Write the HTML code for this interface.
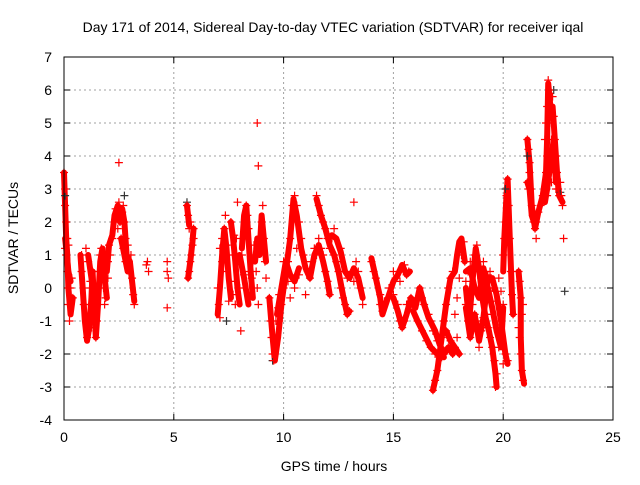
<!DOCTYPE html>
<html><head><meta charset="utf-8"><style>
body{margin:0;background:#fff;}
svg text{font-family:"Liberation Sans",sans-serif;font-size:14px;fill:#000;}
</style></head><body>
<svg id="chart" width="640" height="480" xmlns="http://www.w3.org/2000/svg">
<rect width="640" height="480" fill="#fff"/>
<text x="333" y="32" text-anchor="middle">Day 171 of 2014, Sidereal Day-to-day VTEC variation (SDTVAR) for receiver iqal</text>
<g id="grid"></g>
<g id="axes"></g>
<g id="trc"></g>
<g id="pts"></g>
<rect x="64" y="57" width="549" height="363" fill="none" stroke="#000" stroke-width="1"/>
<text x="334" y="471" text-anchor="middle">GPS time / hours</text>
<text transform="translate(18,238) rotate(-90)" text-anchor="middle">SDTVAR / TECUs</text>
</svg>
<script>
const xTicks=[0,5,10,15,20,25];
const yTicks=[-4,-3,-2,-1,0,1,2,3,4,5,6,7];
const redSeries=[
[0.0,3.5],[0.05,3.0],[0.05,2.5],[0.1,2.0],[0.1,1.5],[0.05,1.2],[0.1,1.0],[0.15,0.5],[0.2,0],[0.2,-0.5],[0.25,-1],[0.3,-0.5],[0.3,0],[0.35,0.3],[0.4,-0.3],[0.15,1.5],[0.2,1.3],
[0.8,1.0],[0.8,0.5],[0.9,0],[0.9,-0.5],[1.0,-1],[1.05,-1.5],[1.1,-1.3],[1.15,-1],[1.2,-0.5],[1.25,0],[1.3,0.5],[1.35,-0.5],[1.4,-1.2],[1.45,-1.5],[1.5,-1],[1.5,-0.5],[1.55,0],[1.6,0.5],[1.65,1],[1.7,1.2],[1.75,0.5],[1.8,0],[1.85,-0.5],[1.9,-0.3],[1.0,1.2],[1.1,0.8],[1.2,0.2],[2.0,0.3],[2.0,0.8],[2.05,1.3],[2.1,1.0],
[2.2,1.5],[2.3,2.0],[2.35,2.4],[2.4,2.2],[2.5,2.6],[2.55,2.0],[2.6,1.5],[2.65,2.3],[2.7,2.5],[2.75,2.0],[2.8,1.5],[2.85,1.0],[2.9,1.3],[2.95,0.8],[3.0,0.5],[3.05,1.0],[3.1,0.3],[3.15,-0.2],[3.2,-0.5],[2.5,3.8],[2.7,1.2],[2.8,0.8],[2.45,1.8],[2.6,2.2],
[3.75,0.7],[3.8,0.8],[3.85,0.5],[4.7,0.8],[4.7,0.5],[4.7,-0.6],[4.75,0.3],
[5.6,2.5],[5.65,2.2],[5.7,1.8],[5.75,2.0],[5.9,1.8],[5.65,0.3],[5.7,0.5],[5.75,0.8],[5.8,1.0],[5.85,1.3],[5.9,1.5],
[7.0,0],[7.05,-0.5],[7.1,-0.9],[7.1,1.2],[7.2,1.5],[7.3,1.8],[7.4,1.3],[7.4,0.5],[7.5,1.0],[7.6,2.0],[7.6,0.2],[7.7,-0.2],[7.8,-0.5],[7.85,1.5],[7.9,2.6],[7.9,0.8],[8.0,0],[8.05,-1.3],[8.1,1.0],[8.2,1.5],[8.3,2.5],[8.35,2.2],[8.4,1.8],[8.45,0.5],[8.5,-0.2],[8.55,0.3],[8.6,0.8],[8.65,1.3],[8.7,1.0],[8.75,0.5],[8.8,0],[8.85,-0.5],[8.8,5.0],[8.85,3.7],[8.9,1.5],[9.0,2.0],[9.05,2.5],[9.1,1.5],[9.15,0.8],[9.2,0.3],[7.35,2.2],[7.75,1.6],[7.2,0.8],[7.5,-0.4],[8.2,0.4],
[9.35,-0.3],[9.4,-1.0],[9.45,-1.5],[9.5,-2.0],[9.55,-2.2],[9.6,-2.0],[9.7,-1.5],[9.8,-1.0],[9.9,-0.5],[10.0,0],[10.1,0.5],[10.2,0.8],[10.3,1.5],[10.4,2.5],[10.5,2.8],[10.6,2.5],[10.7,2.0],[10.8,1.5],[10.9,1.0],[11.0,0.8],[11.1,0.5],[11.2,0.3],[11.3,0.8],[11.4,1.2],[11.5,1.0],[11.6,1.5],[11.7,1.2],[11.8,1.0],[11.9,0.5],[12.0,0.2],[12.1,-0.2],[10.0,0.8],[10.2,0.2],[10.5,0],[10.7,0.4],[11.0,-0.2],[9.8,-0.2],[10.3,-0.3],[9.65,-1.0],[9.75,-0.6],[10.6,1.2],[10.45,2.0],
[11.5,2.8],[11.6,2.5],[11.7,2.2],[11.8,2.0],[11.9,1.8],[12.0,1.5],[12.1,1.2],[12.2,1.5],[12.3,1.0],[12.4,0.8],[12.5,0.5],[12.6,0],[12.7,-0.3],[12.8,-0.5],[12.9,-0.8],[13.0,-0.7],[12.3,1.8],[12.6,1.2],[12.9,0.3],[13.1,0.5],[13.2,0.2],[13.3,0.8],[13.4,0.5],[13.5,0],[13.6,-0.5],[13.2,2.6],
[14.0,0.8],[14.1,0.5],[14.2,0.3],[14.4,-0.2],[14.5,-0.7],[14.4,-0.5],[14.6,-0.4],[14.8,0],[15.0,0.5],[15.1,0.3],[15.3,0.2],[15.4,0.6],[15.5,0.7],[15.6,0.4],[15.7,0.5],[15.0,-0.2],[15.2,-0.5],[15.3,-1.0],[15.4,-1.2],[15.5,-1.0],[15.6,-0.5],[15.8,-0.3],[15.9,-0.6],[16.0,-0.5],[16.1,-0.3],[16.2,0],[16.3,-0.3],[16.4,-0.5],[16.6,-0.8],[16.7,-1.0],[16.8,-1.3],[17.0,-1.6],[17.2,-1.9],[17.3,-2.0],[17.5,-1.8],[17.7,-2.0],[16.1,-1.0],[16.3,-1.3],[16.5,-1.6],[16.7,-1.8],[16.9,-2.0],[17.2,-2.1],
[16.8,-3.1],[16.9,-2.8],[17.0,-2.5],[17.1,-2.0],[17.2,-1.5],[17.3,-1.0],[17.4,-0.5],[17.5,0],[17.6,0.3],[17.7,0.5],[17.4,-1.3],[17.6,-1.6],[17.8,-1.8],[17.9,-1.5],[18.0,-2.0],[17.8,-0.8],[17.9,-0.3],[18.0,0.3],[18.1,1.0],[18.2,1.4],[18.25,0.8],
[18.3,-0.5],[18.4,-1.0],[18.5,-0.2],[18.6,0.5],[18.7,1.0],[18.8,1.3],[18.9,0.8],[19.0,0.3],[19.1,-0.2],[19.2,-0.8],[19.3,-1.2],[19.4,-1.5],[19.5,-1.8],[19.6,-2.2],[19.7,-2.6],[19.65,-3.0],[19.8,-1.8],[19.9,-1.0],[20.0,-0.5],[18.4,0.5],[18.6,-0.5],[18.8,-1.0],[19.0,-1.3],[19.2,0.2],[19.4,0.5],[19.6,0.0],[19.8,0.3],[18.5,-1.5],[18.9,-1.8],[19.3,-0.3],[19.5,-0.8],[19.7,-1.2],[18.7,-0.8],[19.1,0.8],[19.9,-1.6],[20.1,-2.0],[20.2,-2.2],[20.0,-2.3],[18.3,0.2],[18.5,0.8],[18.9,0],[19.1,-0.9],[19.3,0.4],[19.5,0],[19.7,-0.4],[19.9,-0.1],
[20.0,1.0],[20.05,1.5],[20.1,2.0],[20.15,2.8],[20.2,3.3],[20.25,2.5],[20.3,1.5],[20.35,0.5],[20.4,-0.2],[20.45,-0.8],
[20.7,0.5],[20.75,0.2],[20.8,-0.3],[20.85,-0.8],[20.75,-1.5],[20.8,-2.0],[20.85,-2.5],[20.9,-2.8],[20.7,-1.2],[20.9,-0.5],
[21.1,4.5],[21.15,4.2],[21.2,3.8],[21.1,3.2],[21.15,3.0],[21.2,3.5],[21.25,3.0],[21.3,2.5],[21.35,2.2],[21.4,2.0],[21.45,1.8],[21.5,2.0],[21.6,2.3],[21.7,2.5],[21.8,2.8],[21.9,3.0],[21.5,1.5],
[21.9,4.5],[21.95,5.0],[22.0,5.5],[22.05,6.3],[22.1,6.0],[22.15,5.5],[22.2,5.0],[22.25,5.8],[22.3,5.2],[22.35,4.5],[22.4,4.0],[22.45,3.5],[22.5,3.0],[22.55,2.8],[22.6,3.2],[22.65,2.8],[22.7,2.5],[22.0,4.0],[22.1,3.5],[22.2,3.2],[22.3,3.8],[22.4,3.0],[21.95,3.5],[22.0,2.8],[22.2,4.5],
[22.75,1.5]
];
const blackSeries=[[0.05,2.8],[2.75,2.8],[5.6,2.6],[7.4,-1.0],[9.5,-2.2],[21.1,4.0],[22.3,6.0],[22.8,-0.1],[20.1,3.0],[22.6,2.9]];
const traceA=[[0,3.5],[0.05,2.5],[0.1,1.5],[0.15,1.0],[0.2,0],[0.3,-0.8],[0.4,-0.3]];
const traceB=[[0.05,1.5],[0.1,1.2],[0.2,0.5],[0.3,0.2]];
const traceC=[[0.75,1.0],[0.85,0],[0.95,-1.0],[1.05,-1.6],[1.15,-1.2],[1.25,-0.3],[1.3,0.5]];
const traceD=[[1.3,0.5],[1.4,-0.8],[1.45,-1.5],[1.55,-0.5],[1.65,0.8],[1.75,1.2],[1.85,0.3],[1.95,-0.3]];
const traceE=[[1.1,1.0],[1.25,0.3],[1.35,-0.3]];
const traceF=[[1.95,0.5],[2.05,1.3],[2.2,1.6],[2.3,2.2],[2.45,2.5],[2.55,2.0],[2.65,2.4],[2.75,2.0],[2.85,1.0],[3.0,0.8],[3.1,0.2],[3.2,-0.4]];
const traceG=[[2.6,1.5],[2.75,1.0],[2.9,0.5]];
const traceH=[[5.65,0.3],[5.75,0.8],[5.85,1.4],[5.9,1.8]];
const traceH2=[[5.6,2.5],[5.7,1.9]];
const traceI1=[[7.0,-0.8],[7.1,0],[7.2,1.0],[7.3,1.8],[7.4,1.2],[7.5,0.3],[7.6,-0.3]];
const traceI2=[[7.6,2.0],[7.7,1.5],[7.8,0.8],[7.9,0],[8.0,-0.5]];
const traceI3=[[8.1,1.2],[8.2,2.2],[8.3,2.5],[8.4,1.5],[8.5,0.5],[8.6,-0.3]];
const traceI4=[[8.7,0.8],[8.8,1.5],[8.9,1.0],[9.0,2.2],[9.1,1.5],[9.2,0.8]];
const traceI5=[[8.0,1.0],[8.2,0.3],[8.4,-0.5]];
const traceJ=[[9.35,-0.3],[9.5,-1.5],[9.6,-2.2],[9.75,-1.5],[9.9,-0.5],[10.1,0.5],[10.3,1.5],[10.45,2.7],[10.6,2.2],[10.8,1.2],[11.0,0.6],[11.2,0.3],[11.4,1.0],[11.6,1.3],[11.8,0.8],[12.0,0.2],[12.1,-0.2]];
const traceJ2=[[9.7,-0.8],[9.9,0],[10.1,0.8],[10.3,0.4],[10.5,0.2],[10.7,0.6]];
const traceK=[[11.5,2.7],[11.7,2.2],[11.9,1.8],[12.1,1.3],[12.3,1.0],[12.5,0.5],[12.7,-0.2],[12.9,-0.8],[13.0,-0.7]];
const traceK2=[[12.2,1.6],[12.4,1.5],[12.6,1.1],[12.8,0.5],[13.0,0.3],[13.2,0.6],[13.4,0.3],[13.6,-0.3]];
const traceL=[[14.0,0.9],[14.2,0.3],[14.4,-0.3],[14.5,-0.8],[14.7,-0.4],[15.0,0.2],[15.2,0.4],[15.4,0.7],[15.6,0.4],[15.75,0.5]];
const traceL2=[[15.0,-0.3],[15.2,-0.7],[15.4,-1.2],[15.6,-0.8],[15.8,-0.3],[16.0,-0.6],[16.2,0],[16.4,-0.5],[16.6,-0.9],[16.9,-1.3],[17.1,-1.7],[17.3,-2.0],[17.5,-1.8],[17.7,-2.0]];
const traceL3=[[15.9,-0.7],[16.1,-1.0],[16.4,-1.4],[16.7,-1.8],[17.0,-2.0],[17.3,-2.1]];
const traceM=[[16.8,-3.1],[17.0,-2.5],[17.2,-1.5],[17.4,-0.5],[17.6,0.3],[17.8,0.5],[17.9,1.0],[18.0,1.4],[18.1,1.5],[18.25,0.8]];
const traceM2=[[17.4,-1.3],[17.6,-1.6],[17.8,-1.8],[18.0,-2.0]];
const traceN=[[18.3,0],[18.45,-1.0],[18.6,0.2],[18.75,1.2],[18.9,0.6],[19.05,-0.3],[19.2,-0.9],[19.35,-1.3],[19.5,-1.8],[19.65,-2.6],[19.7,-3.0]];
const traceN2=[[18.3,-0.6],[18.5,-1.5],[18.7,-0.8],[18.9,-1.6],[19.1,-0.9],[19.3,0.3],[19.5,0.3],[19.7,-0.2],[19.9,-1.0],[20.1,-2.0],[20.2,-2.3]];
const traceN3=[[18.3,0.5],[18.5,0.6],[18.7,0],[18.9,-0.3],[19.1,0.6],[19.3,0],[19.5,-0.6],[19.7,-1.3],[19.9,-1.8],[20.0,-0.6]];
const traceO=[[20.0,0.5],[20.05,1.5],[20.15,2.8],[20.2,3.3],[20.3,1.5],[20.4,-0.2],[20.45,-0.8]];
const traceP=[[20.7,0.5],[20.8,-0.3],[20.8,-1.5],[20.85,-2.5],[20.95,-2.9]];
const traceQ=[[21.1,4.5],[21.2,3.8],[21.3,2.5],[21.45,1.8],[21.6,2.3],[21.8,2.8],[21.95,3.5],[22.0,4.5],[22.05,6.2],[22.15,5.5],[22.25,5.5],[22.35,4.5],[22.45,3.5],[22.55,2.8],[22.7,2.6]];
const traceQ2=[[21.1,3.2],[21.2,3.0],[21.3,2.2],[21.4,2.0]];
const traceQ3=[[21.9,2.6],[22.0,3.0],[22.1,3.5],[22.2,4.0],[22.3,4.5],[22.4,3.2]];
const traces=[traceA,traceB,traceC,traceD,traceE,traceF,traceG,traceH,traceH2,traceI1,traceI2,traceI3,traceI4,traceI5,traceJ,traceJ2,traceK,traceK2,traceL,traceL2,traceL3,traceM,traceM2,traceN,traceN2,traceN3,traceO,traceP,traceQ,traceQ2,traceQ3];
const NS='http://www.w3.org/2000/svg';
const X0=64,X1=613,Y0=420,Y1=57;
function sx(h){return X0+(h-0)/(25-0)*(X1-X0);}
function sy(v){return Y0-(v+4)/(7+4)*(Y0-Y1);}
const grid=document.getElementById('grid'),axes=document.getElementById('axes'),pts=document.getElementById('pts'),trc=document.getElementById('trc');
function mk(t,a,p){const e=document.createElementNS(NS,t);for(const k in a)e.setAttribute(k,a[k]);p.appendChild(e);return e;}
xTicks.forEach(t=>{
 const x=sx(t);
 if(t>0&&t<25){const g=mk('line',{x1:x,x2:x,y1:Y1,y2:Y0,stroke:'#a0a0a0','stroke-dasharray':'2,3'},grid);
 
 }
 mk('line',{x1:x,x2:x,y1:Y0,y2:Y0-6,stroke:'#000'},axes);
 mk('line',{x1:x,x2:x,y1:Y1,y2:Y1+6,stroke:'#000'},axes);
 const tx=mk('text',{x:x,y:Y0+22,'text-anchor':'middle'},axes);tx.textContent=t;
 
 
});
yTicks.forEach(t=>{
 const y=sy(t);
 if(t>-4&&t<7){const g=mk('line',{x1:X0,x2:X1,y1:y,y2:y,stroke:'#a0a0a0','stroke-dasharray':'2,3'},grid);
 
 }
 mk('line',{x1:X0,x2:X0+6,y1:y,y2:y,stroke:'#000'},axes);
 mk('line',{x1:X1,x2:X1-6,y1:y,y2:y,stroke:'#000'},axes);
 const tx=mk('text',{x:X0-12,y:y+5,'text-anchor':'end'},axes);tx.textContent=t;
 
 
});
traces.forEach(tr=>{
 const pl=mk('polyline',{points:tr.map(d=>sx(d[0])+','+sy(d[1])).join(' '),fill:'none',stroke:'#ff0000','stroke-width':6,'stroke-linejoin':'round','stroke-linecap':'round'},trc);
 
 
});
function cross(h,v,c){
 const x=sx(h),y=sy(v);
 return mk('path',{d:`M${x-4},${y}H${x+4}M${x},${y-4}V${y+4}`,stroke:c,'stroke-width':1.2,fill:'none'},pts);
}
blackSeries.forEach(d=>{const p=cross(d[0],d[1],'#333');
 
 });
redSeries.forEach(d=>{const p=cross(d[0],d[1],'#ff0000');
 
 });
</script>
</body></html>
